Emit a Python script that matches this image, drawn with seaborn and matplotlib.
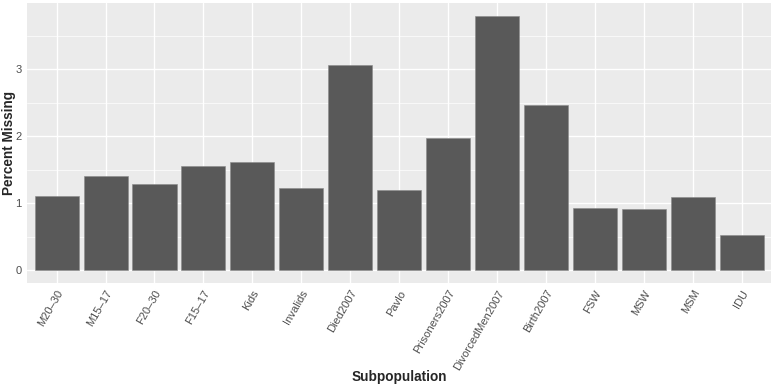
import pandas as pd
import seaborn as sns
import matplotlib.pyplot as plt
from matplotlib.ticker import MultipleLocator

# 数据
subpops = ["M20–30", "M15–17", "F20–30", "F15–17", "Kids", "Invalids", "Died2007",
           "Pavlo", "Prisoners2007", "DivorcedMen2007", "Birth2007", "FSW", "MSW",
           "MSM", "IDU"]
pct_missing = [1.10, 1.41, 1.29, 1.56, 1.62, 1.23, 3.06, 1.20, 1.98, 3.80, 2.47,
               0.93, 0.92, 1.09, 0.53]

df = pd.DataFrame({"Subpopulation": subpops, "Percent Missing": pct_missing})

sns.set_style("darkgrid", {"axes.facecolor": "#EBEBEB", "grid.color": "white"})
plt.rcParams['font.family'] = ['Liberation Sans', 'DejaVu Sans']

fig = plt.figure(figsize=(7.75, 3.88), dpi=100)
ax = fig.add_axes([0.0352, 0.2714, 0.9596, 0.7201])

sns.barplot(data=df, x="Subpopulation", y="Percent Missing", color="#595959",
            saturation=1, width=0.9, edgecolor="#8a8a8a", linewidth=0.4, ax=ax)

ax.set_xlim(-0.6, len(subpops) - 0.4)
ax.set_ylim(-0.19, 3.99)
ax.yaxis.set_major_locator(MultipleLocator(1))
ax.yaxis.set_minor_locator(MultipleLocator(0.5))
ax.grid(which="major", color="white", linewidth=1.0)
ax.grid(which="minor", axis="y", color="white", linewidth=0.5)
ax.set_axisbelow(True)
for s in ax.spines.values():
    s.set_visible(False)

ax.tick_params(axis="both", which="major", length=2.5, width=0.8, color="#333333",
               labelsize=8, labelcolor="#4D4D4D", pad=1.5)
ax.tick_params(axis="both", which="minor", length=0)
plt.setp(ax.get_xticklabels(), rotation=60, ha="right", rotation_mode="anchor")

# 坐标轴标题（放在图上，避免被裁掉）
ax.set_xlabel("")
ax.set_ylabel("")
fig.text(399 / 775, 1 - 377 / 388, "Subpopulation", fontsize=9.8, fontweight="bold",
         ha="center", va="center")
fig.text(9.5 / 775, 1 - 143 / 388, "Percent Missing", fontsize=9.8, fontweight="bold",
         ha="center", va="center", rotation=90)

fig.savefig("out.png", dpi=100)
